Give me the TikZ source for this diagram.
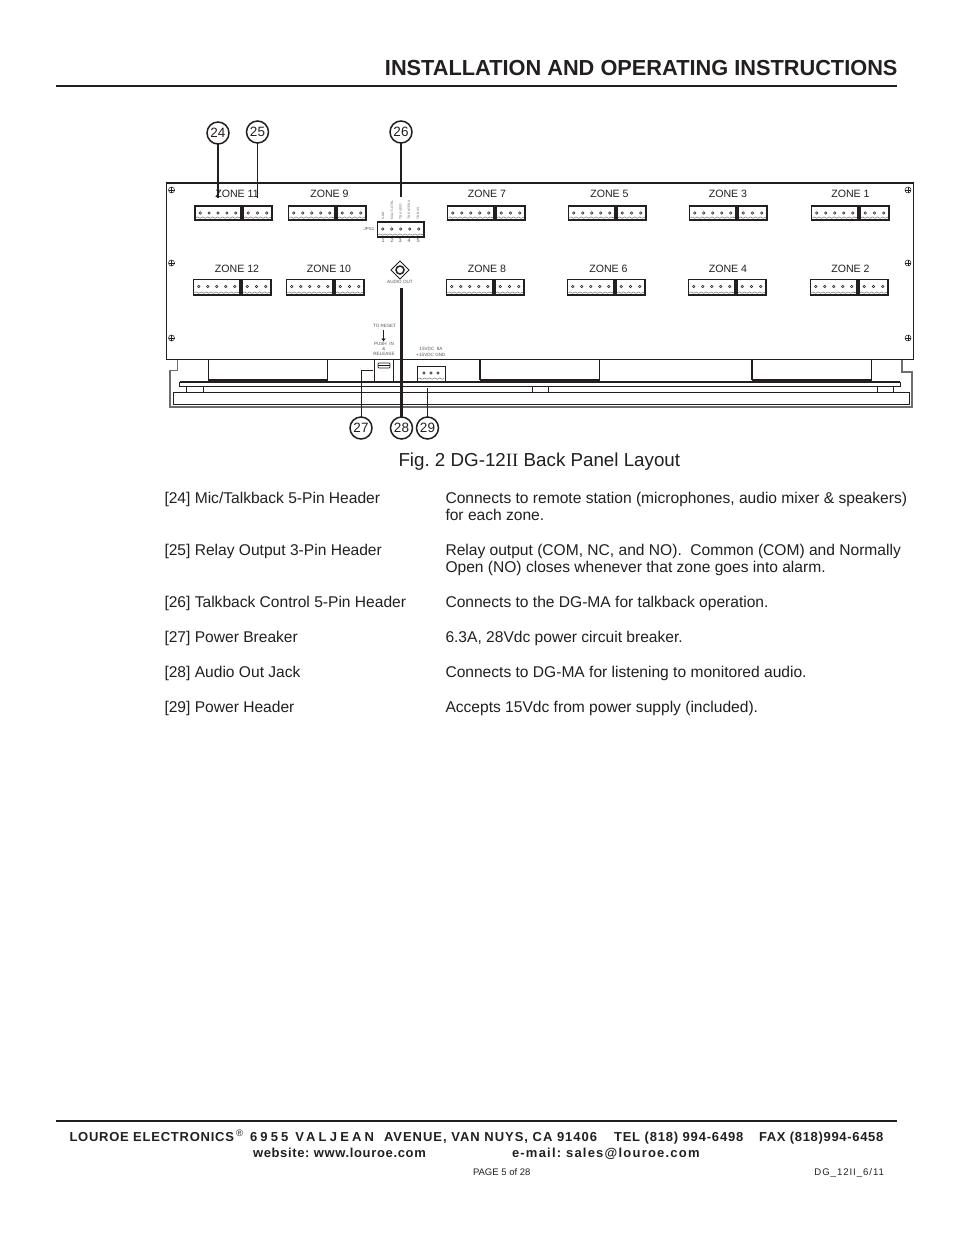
\documentclass[tikz,border=0pt]{standalone}
\usepackage{fontspec}
\setmainfont{Liberation Sans}
\newfontfamily\serifii{Liberation Serif}
\usetikzlibrary{decorations.pathmorphing,arrows.meta}
\definecolor{ink}{RGB}{35,31,32}
\definecolor{midgray}{RGB}{110,110,110}
\frenchspacing
\tikzset{
  x=1pt,y=-1pt,
  every node/.style={inner sep=0pt,outer sep=0pt,text=ink},
  bodytext/.style={anchor=base west,font=\fontsize{15.58}{17}\selectfont},
  zonelabel/.style={anchor=center,font=\fontsize{10.6}{12}\selectfont},
  tiny/.style={anchor=center,font=\fontsize{4.6}{5.2}\selectfont,align=center,text=ink!75},
  vtiny/.style={anchor=west,rotate=90,font=\fontsize{3.2}{3.2}\selectfont,text=ink!70},
  callout/.style={circle,draw=ink,line width=1.5pt,fill=white,minimum size=22pt,font=\fontsize{13.5}{14}\selectfont},
  headerbox/.style={draw=ink,line width=1.1pt,fill=white},
  panel/.style={draw=ink,line width=0.9pt},
  foot/.style={anchor=base west,font=\bfseries\fontsize{13}{15}\selectfont},
  leader/.style={draw=ink,line width=2.2pt},
  thinleader/.style={draw=ink,line width=0.9pt},
}
% header: x0 x1 y0 y1 number of pins
\newcommand{\hdr}[5]{%
  \draw[headerbox] (#1,#3) rectangle (#2,#4);
  \pgfmathsetmacro{\hstep}{(#2-#1-10.5)/(#5-1)}
  \pgfmathsetmacro{\pinY}{#3+7}
  \foreach \k in {1,...,#5}{
    \pgfmathsetmacro{\pinX}{#1+5.25+(\k-1)*\hstep}
    \draw[ink,line width=0.5pt] (\pinX,\pinY) circle (1.2pt);
  }
  \pgfmathsetmacro{\wy}{#4-2.4}
  \draw[ink!75,line width=0.4pt,decorate,decoration={snake,amplitude=0.7pt,segment length=5pt}] (#1+1,\wy) -- (#2-1,\wy);
}
% zone: name, label x, label y, x0, x1, y0, y1
\newcommand{\zone}[7]{%
  \node[zonelabel] at (#2,#3) {ZONE #1};
  \hdr{#4}{#5}{#6}{#7}{5}
  \pgfmathsetmacro{\xa}{#5+2}
  \pgfmathsetmacro{\xb}{#5+31}
  \hdr{\xa}{\xb}{#6}{#7}{3}
}
\newcommand{\screw}[2]{%
  \draw[ink,line width=0.5pt] (#1,#2) circle (3pt);
  \draw[ink,line width=0.5pt] (#1-3,#2) -- (#1+3,#2) (#1,#2-3) -- (#1,#2+3);
}
\begin{document}
\begin{tikzpicture}
\useasboundingbox[fill=white] (0,0) rectangle (954,1235);

% title
\node[anchor=base east,font=\bfseries\fontsize{21.76}{24}\selectfont] (title) at (897.5,75.5) {INSTALLATION AND OPERATING INSTRUCTIONS};
\draw[ink,line width=2pt] (56,86) -- (897,86);

% lower chassis outline
\draw[midgray,line width=1.5pt] (177.5,359) -- (177.5,370.5) -- (170,370.5) -- (170,407) -- (912,407) -- (912,372) -- (902,372) -- (902,359);
% long bars
\draw[ink,line width=1pt] (179.5,382) -- (900,382) -- (900,386.5) -- (179.5,386.5) -- cycle;
\draw[ink,line width=1.8pt] (179.5,382) -- (900,382);
\draw[ink,line width=1pt] (173.5,392.5) rectangle (909,404.5);
\draw[ink,line width=1.6pt] (173.5,392.5) -- (173.5,404.5);
% little feet
\draw[ink,line width=1pt] (186.5,392.5) -- (186.5,386) -- (203.5,386) -- (203.5,392.5);
\draw[ink,line width=0.8pt] (532,386.5) -- (532,392.5) (548,386.5) -- (548,392.5);
\draw[ink,line width=0.8pt] (877,386.5) -- (877,392.5) (893,386.5) -- (893,392.5);
% recesses
\foreach \xa/\xb in {208/327,480/599.5,752/871.5}{
  \draw[ink,line width=1pt] (\xa,359) -- (\xa,380.5) (\xb,359) -- (\xb,380.5);
  \fill[ink] (\xa-0.5,378.5) rectangle (\xb+0.5,382);
}
\draw[ink,line width=1.6pt] (480,359) -- (480,380);
\draw[ink,line width=1.6pt] (752,359) -- (752,380);

% main panel
\draw[panel] (166.5,182.5) rectangle (913.5,359);
\draw[ink,line width=2pt] (166,182.5) -- (914,182.5);

% screws
\foreach \sx in {171.5,908}{\foreach \sy in {190,263,338}{\screw{\sx}{\sy}}}

% zones
\zone{11}{237}{193.7}{195}{241}{206}{220}
\zone{9}{329.5}{193.7}{288.5}{335}{206}{220}
\zone{7}{487}{193.7}{447.5}{494}{206}{220}
\zone{5}{609.5}{193.7}{568.5}{615}{206}{220}
\zone{3}{728}{193.7}{689.5}{736}{206}{220}
\zone{1}{850.5}{193.7}{811.5}{858}{206}{220}
\zone{12}{237}{268.7}{193.5}{240}{279.5}{295}
\zone{10}{329}{268.7}{286.5}{333}{279.5}{295}
\zone{8}{487}{268.7}{446.5}{493}{279.5}{295}
\zone{6}{608.5}{268.7}{567.5}{614}{279.5}{295}
\zone{4}{728}{268.7}{688.5}{735}{279.5}{295}
\zone{2}{850.5}{268.7}{810.5}{857}{279.5}{295}

% JPS1
\hdr{377.5}{424}{222}{237}{5}
\node[tiny,font=\fontsize{4.4}{5}\selectfont] (jps) at (369,229) {JPS1};
\foreach \n/\px in {1/383,2/392,3/400,4/409,5/418}{
  \node[tiny,font=\fontsize{5.4}{6}\selectfont] (num\n) at (\px,241) {\n};
}
\node[vtiny] (l1) at (383,219) {GND};
\node[vtiny] (l2) at (392,219) {MULTI-CTRL};
\node[vtiny] (l3) at (400.5,219) {TB AUDIO};
\node[vtiny] (l4) at (409,219) {TB ENTER A};
\node[vtiny] (l5) at (418,219) {TB BUS};

% audio out jack
\draw[ink,line width=0.8pt] (400,261) -- (409,270) -- (400,279) -- (391,270) -- cycle;
\draw[ink,line width=1.5pt] (400,270) circle (4pt);
\node[tiny] (audio) at (400,282) {AUDIO OUT};

% breaker
\node[tiny] (reset) at (384.5,325.5) {TO RESET};
\draw[ink,line width=0.7pt,-{Latex[length=3pt,width=5pt]}] (383.5,330) -- (383.5,341.5);
\node[tiny] (push) at (384,349) {PUSH \ IN\\\&\\RELEASE};
\draw[ink,line width=0.9pt] (374.5,359) -- (374.5,381.5) (393.5,359) -- (393.5,381.5);
\draw[ink,line width=0.7pt,rounded corners=0.8pt] (378,363) rectangle (390,368);
\draw[ink,line width=0.7pt] (378,365.5) -- (390,365.5);

% power
\node[tiny] (pow) at (431,352) {15VDC \ 8A\\+15VDC GND};
\draw[ink,line width=1pt] (417,381) -- (417,366) -- (445,366) -- (445,381);
\foreach \px in {424,431,438}{\draw[ink,line width=0.5pt] (\px,373) circle (1.2pt);}
\draw[ink!75,line width=0.4pt,decorate,decoration={snake,amplitude=0.7pt,segment length=5pt}] (418,378.6) -- (444,378.6);

% thick rule under the panel drawn over things
\draw[ink,line width=2pt] (208,382) -- (900,382);

% callouts
\node[callout] (c24) at (218,133) {24};
\node[callout] (c25) at (257.5,132) {25};
\node[callout] (c26) at (401,132) {26};
\node[callout] (c27) at (361,428) {27};
\node[callout] (c28) at (401.5,428) {28};
\node[callout] (c29) at (427.5,428) {29};
\coordinate (e24) at (218,198);
\coordinate (e25) at (257.5,198);
\coordinate (e26) at (401,197);
\coordinate (e27) at (373,370);
\coordinate (e28) at (401.5,288);
\coordinate (e29) at (427.5,388);
\draw[leader] (c24) -- (e24);
\draw[thinleader] (c25) -- (e25);
\draw[leader,line width=1.8pt] (c26) -- (e26);
\draw[thinleader] (c27) |- (e27);
\draw[leader] (c28) -- (e28);
\draw[thinleader] (c29) -- (e29);

% caption
\node[anchor=base west,font=\fontsize{18.77}{20}\selectfont] (cap) at (398.5,466.3) {Fig. 2 DG-12{\serifii II} Back Panel Layout};

% descriptions
\node[bodytext] (a24) at (164.5,503) {[24] Mic/Talkback 5-Pin Header};
\node[bodytext] (b24) at (445.5,503) {Connects to remote station (microphones, audio mixer \& speakers)};
\node[bodytext] (b24x) at (445.5,520) {for each zone.};
\node[bodytext] (a25) at (164.5,555) {[25] Relay Output 3-Pin Header};
\node[bodytext] (b25) at (445.5,555) {Relay output (COM, NC, and NO).\ \ Common (COM) and Normally};
\node[bodytext] (b25x) at (445.5,572) {Open (NO) closes whenever that zone goes into alarm.};
\node[bodytext] (a26) at (164.5,607) {[26] Talkback Control 5-Pin Header};
\node[bodytext] (b26) at (445.5,607) {Connects to the DG-MA for talkback operation.};
\node[bodytext] (a27) at (164.5,642) {[27] Power Breaker};
\node[bodytext] (b27) at (445.5,642) {6.3A, 28Vdc power circuit breaker.};
\node[bodytext] (a28) at (164.5,677) {[28] Audio Out Jack};
\node[bodytext] (b28) at (445.5,677) {Connects to DG-MA for listening to monitored audio.};
\node[bodytext] (a29) at (164.5,712) {[29] Power Header};
\node[bodytext] (b29) at (445.5,712) {Accepts 15Vdc from power supply (included).};

% footer
\draw[ink,line width=2pt] (56,1120.5) -- (897,1120.5);
\node[foot] (f1) at (69.5,1141) {\addfontfeature{LetterSpace=5.8}LOUROE ELECTRONICS};
\node[anchor=base west,font=\fontsize{9.5}{10}\selectfont] (freg) at (236,1136.5) {®};
\node[foot] (f2) at (250,1141) {\addfontfeature{LetterSpace=24.5}6955 VALJEAN};
\node[foot] (f3) at (384,1141) {\addfontfeature{LetterSpace=7.6}AVENUE, VAN NUYS, CA 91406};
\node[foot] (f4) at (614,1141) {\addfontfeature{LetterSpace=6.3}TEL (818) 994-6498};
\node[foot] (f5) at (759,1141) {\addfontfeature{LetterSpace=5.2}FAX (818)994-6458};
\node[foot] (f6) at (253,1157) {\addfontfeature{LetterSpace=5}website: www.louroe.com};
\node[foot] (f7) at (512,1157) {\addfontfeature{LetterSpace=9.4}e-mail: sales@louroe.com};
\node[anchor=base west,font=\fontsize{9.5}{11}\selectfont] (f8) at (473,1175) {PAGE 5 of 28};
\node[anchor=base east,font=\fontsize{9.6}{11}\selectfont] (f9) at (884,1175) {\addfontfeature{LetterSpace=10}DG\_12II\_6/11};
\end{tikzpicture}
\end{document}
